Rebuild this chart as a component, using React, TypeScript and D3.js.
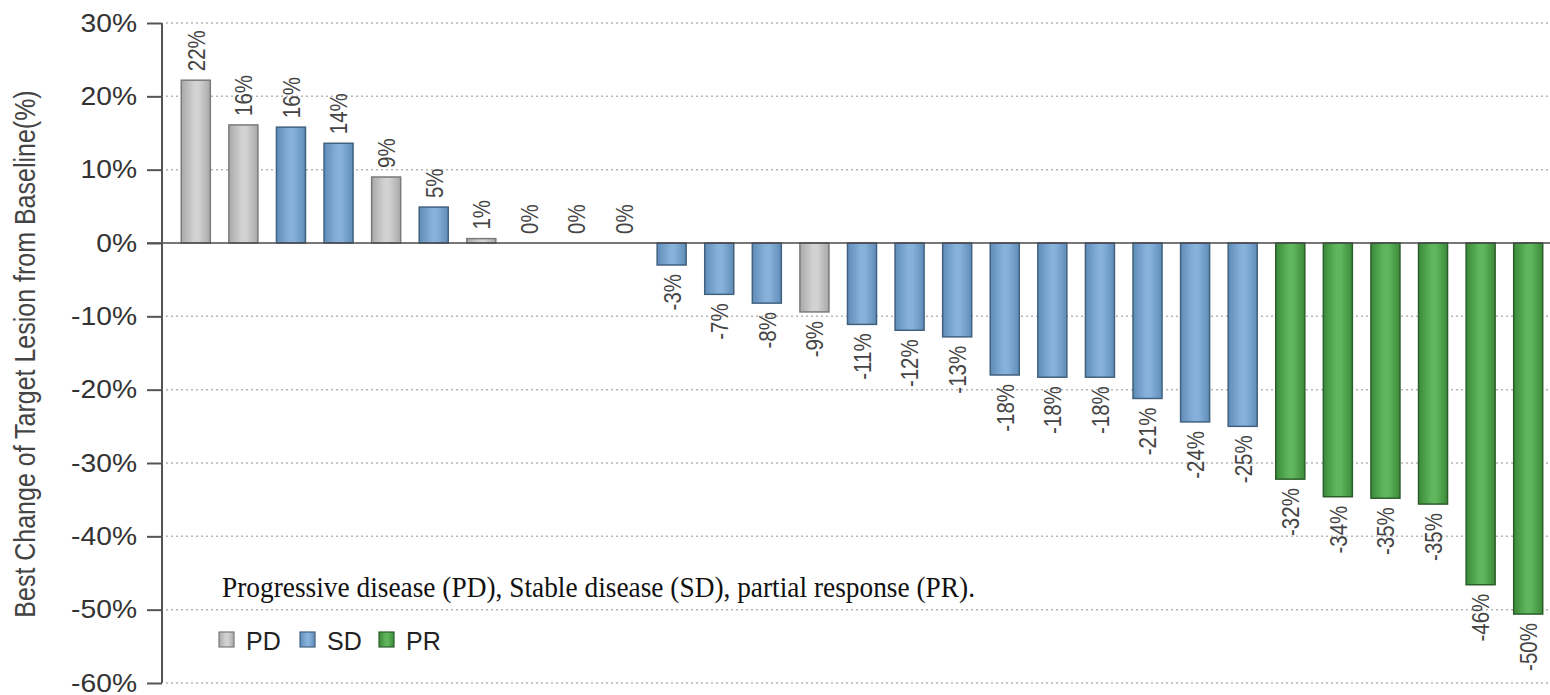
import React, { useEffect, useRef } from "react";
import * as d3 from "d3";

const values = [
  22.2, 16.1, 15.8, 13.6, 9.0, 4.9, 0.6, 0, 0, 0,
  -3.0, -7.0, -8.2, -9.4, -11.1, -11.9, -12.8, -18.0, -18.3, -18.3,
  -21.2, -24.4, -25.0, -32.2, -34.6, -34.8, -35.6, -46.6, -50.6,
];
const labels = [
  22, 16, 16, 14, 9, 5, 1, 0, 0, 0,
  -3, -7, -8, -9, -11, -12, -13, -18, -18, -18,
  -21, -24, -25, -32, -34, -35, -35, -46, -50,
];
const groups = [
  "PD", "PD", "SD", "SD", "PD", "SD", "PD", "SD", "SD", "SD",
  "SD", "SD", "SD", "PD", "SD", "SD", "SD", "SD", "SD", "SD",
  "SD", "SD", "SD", "PR", "PR", "PR", "PR", "PR", "PR",
];
const legendKeys = ["PD", "SD", "PR"];
const yTicks = [30, 20, 10, 0, -10, -20, -30, -40, -50, -60];

const palette: Record<string, { edge: string; mid: string; line: string }> = {
  PD: { edge: "#a9a9a9", mid: "#d2d2d2", line: "#7a7a7a" },
  SD: { edge: "#5f8cb8", mid: "#86b1da", line: "#41617f" },
  PR: { edge: "#3b8a3a", mid: "#5fb65c", line: "#2c5e2c" },
};

const sans = "Arial, 'Liberation Sans', sans-serif";

const App: React.FC = () => {
  const svgRef = useRef<SVGSVGElement>(null);

  useEffect(() => {
    document.body.style.margin = "0";
    if (!svgRef.current) return;
    const width = 1550;
    const height = 695;
    const svg = d3.select(svgRef.current);
    svg.selectAll("*").remove();
    svg.attr("width", width).attr("height", height);

    const axisX = 162;
    const y = d3.scaleLinear().domain([-60, 30]).range([683, 23]);
    const x = d3
      .scaleBand<number>()
      .domain(d3.range(values.length))
      .range([172, 1552])
      .paddingInner(0.39)
      .paddingOuter(0.195);

    const defs = svg.append("defs");
    Object.entries(palette).forEach(([k, c]) => {
      const g = defs
        .append("linearGradient")
        .attr("id", "grad-" + k)
        .attr("x1", "0%")
        .attr("x2", "100%");
      g.append("stop").attr("offset", "0%").attr("stop-color", c.edge);
      g.append("stop").attr("offset", "45%").attr("stop-color", c.mid);
      g.append("stop").attr("offset", "60%").attr("stop-color", c.mid);
      g.append("stop").attr("offset", "100%").attr("stop-color", c.edge);
    });

    // dotted grid
    svg
      .append("g")
      .selectAll("line")
      .data(yTicks.filter((t) => t !== 0))
      .join("line")
      .attr("x1", axisX + 4)
      .attr("x2", width)
      .attr("y1", (d) => y(d))
      .attr("y2", (d) => y(d))
      .attr("stroke", "#b5b5b5")
      .attr("stroke-width", 1.5)
      .attr("stroke-dasharray", "2 3");

    // bars
    svg
      .append("g")
      .selectAll("rect")
      .data(values)
      .join("rect")
      .attr("x", (_, i) => x(i)!)
      .attr("width", x.bandwidth())
      .attr("y", (d) => y(Math.max(0, d)))
      .attr("height", (d) => Math.abs(y(d) - y(0)))
      .attr("fill", (_, i) => `url(#grad-${groups[i]})`)
      .attr("stroke", (_, i) => palette[groups[i]].line)
      .attr("stroke-width", 1.5);

    // zero line
    svg
      .append("line")
      .attr("x1", axisX - 15)
      .attr("x2", width)
      .attr("y1", y(0))
      .attr("y2", y(0))
      .attr("stroke", "#4a4a4a")
      .attr("stroke-width", 1.5);

    // y axis
    const yAxis = svg
      .append("g")
      .attr("transform", `translate(${axisX},0)`)
      .call(
        d3
          .axisLeft(y)
          .tickValues(yTicks)
          .tickSize(15)
          .tickPadding(10)
          .tickFormat((d) => `${d}%`)
      );
    yAxis.select(".domain").attr("stroke", "#555").attr("stroke-width", 2).attr("d", `M0,${y(30)}V${y(-60)}`);
    yAxis.selectAll(".tick line").attr("stroke", "#555").attr("stroke-width", 2);
    yAxis
      .selectAll(".tick text")
      .attr("fill", "#333")
      .attr("font-size", 25)
      .attr("font-family", sans)
      .attr("x", -25 / 1.13)
      .attr("transform", "scale(1.13,1)");

    // bar labels
    svg
      .append("g")
      .selectAll("text")
      .data(values)
      .join("text")
      .attr("transform", (d, i) => {
        const cx = x(i)! + x.bandwidth() / 2;
        const ty = d >= 0 ? y(d) - 9 : y(d) + 9;
        return `translate(${cx},${ty}) rotate(-90) scale(1,1.2)`;
      })
      .attr("text-anchor", (d) => (d >= 0 ? "start" : "end"))
      .attr("dy", "0.36em")
      .attr("fill", "#444")
      .attr("font-size", 20.5)
      .attr("font-family", sans)
      .text((_, i) => `${labels[i]}%`);

    // y title
    svg
      .append("text")
      .attr("transform", `translate(35,${(90 + 618) / 2}) rotate(-90) scale(1,1.18)`)
      .attr("text-anchor", "middle")
      .attr("fill", "#444")
      .attr("font-size", 25)
      .attr("font-family", sans)
      .text("Best Change of Target Lesion from Baseline(%)");

    // caption
    svg
      .append("text")
      .attr("x", 222)
      .attr("y", 597)
      .attr("fill", "#111")
      .attr("font-size", 29)
      .attr("font-family", "'Times New Roman', 'Liberation Serif', serif")
      .attr("textLength", 753)
      .attr("lengthAdjust", "spacingAndGlyphs")
      .text("Progressive disease (PD), Stable disease (SD), partial response (PR).");

    // legend
    const lg = svg.append("g").attr("transform", "translate(219,632)");
    const offsets = [0, 81, 160];
    legendKeys.forEach((k, i) => {
      const item = lg.append("g").attr("transform", `translate(${offsets[i]},0)`);
      item
        .append("rect")
        .attr("width", 15)
        .attr("height", 15)
        .attr("fill", `url(#grad-${k})`)
        .attr("stroke", palette[k].line)
        .attr("stroke-width", 1.2);
      item
        .append("text")
        .attr("x", 27)
        .attr("y", 18)
        .attr("fill", "#222")
        .attr("font-size", 25)
        .attr("font-family", sans)
        .text(k);
    });
  }, []);

  return <svg ref={svgRef}></svg>;
};

export default App;
